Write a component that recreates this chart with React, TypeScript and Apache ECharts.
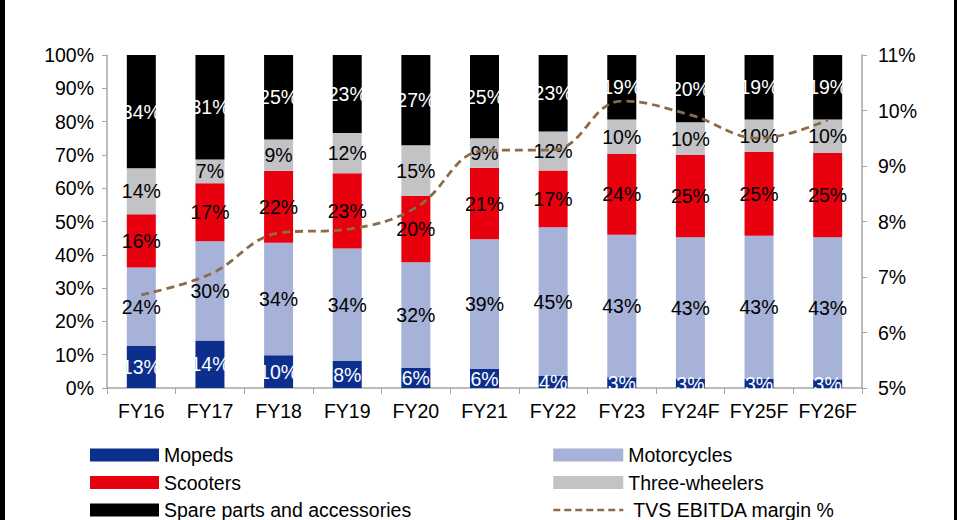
import React, { useEffect, useRef } from "react";
import * as echarts from "echarts";

const categories = ["FY16", "FY17", "FY18", "FY19", "FY20", "FY21", "FY22", "FY23", "FY24F", "FY25F", "FY26F"];
const mopeds = [12.6, 14.3, 9.8, 8.1, 6.0, 5.7, 3.6, 3.2, 2.7, 2.7, 2.6];
const motorcycles = [23.6, 29.8, 33.8, 33.8, 31.8, 39.0, 44.7, 42.8, 42.6, 43.0, 42.7];
const scooters = [16.0, 17.4, 21.6, 22.6, 19.9, 21.4, 17.0, 24.3, 24.7, 25.2, 25.3];
const threeWheelers = [13.8, 7.1, 9.4, 12.1, 15.2, 8.9, 11.7, 10.3, 9.8, 9.7, 10.0];
const spareParts = [34.0, 31.4, 25.4, 23.4, 27.1, 25.0, 23.0, 19.4, 20.2, 19.4, 19.4];
const ebitdaMargin = [6.68, 7.05, 7.79, 7.86, 8.25, 9.28, 9.29, 10.17, 9.92, 9.5, 9.83];
const leftTicks = [0, 100];
const rightTicks = [5, 11];

const FONT = "'Liberation Sans', Arial, sans-serif";
const FS = 19.5;
const LINE_COLOR = "#8b6b4a";

export default function App() {
  const ref = useRef<HTMLDivElement>(null);
  useEffect(() => {
    document.body.style.margin = "0";
    const chart = echarts.init(ref.current!, null, { renderer: "svg" });
    const barSeries = (name: string, data: number[], color: string, labelColor: string) => ({
      name,
      type: "bar",
      stack: "total",
      data,
      barWidth: 29,
      itemStyle: { color },
      label: {
        show: true,
        position: "inside",
        color: labelColor,
        fontSize: FS,
        fontFamily: FONT,
        formatter: (p: any) => Math.round(p.value) + "%",
      },
    });
    const legendCommon = {
      orient: "vertical",
      top: 440,
      height: 100,
      itemHeight: 13,
      itemGap: 7.5,
      textStyle: { fontSize: FS, color: "#000", fontFamily: FONT },
    };
    chart.setOption({
      animation: false,
      textStyle: { fontFamily: FONT },
      grid: { left: 107, right: 99, top: 55, bottom: 132 },
      graphic: [
        { type: "rect", left: 0, top: 0, shape: { width: 5, height: 520 }, style: { fill: "#000" } },
        { type: "rect", left: 954, top: 0, shape: { width: 3, height: 520 }, style: { fill: "#000" } },
      ],
      legend: [
        {
          ...legendCommon,
          left: 85,
          itemWidth: 69,
          data: [
            { name: "Mopeds", icon: "rect" },
            { name: "Scooters", icon: "rect" },
            { name: "Spare parts and accessories", icon: "rect" },
          ],
        },
        {
          ...legendCommon,
          left: 547,
          itemWidth: 70,
          data: [
            { name: "Motorcycles", icon: "rect" },
            { name: "Three-wheelers", icon: "rect" },
            {
              name: "TVS EBITDA margin %",
              itemStyle: { opacity: 0, color: "transparent", borderWidth: 0 },
              lineStyle: { color: LINE_COLOR, width: 2.5, type: [7, 4] },
            },
          ],
          formatter: (n: string) => (n === "TVS EBITDA margin %" ? " " + n : n),
        },
      ],
      xAxis: {
        type: "category",
        data: categories,
        boundaryGap: true,
        axisLine: { lineStyle: { color: "#a6a6a6", width: 1.5 } },
        axisTick: { show: true, length: 6, lineStyle: { color: "#a6a6a6" } },
        axisLabel: { interval: 0, fontSize: FS, color: "#000", margin: 13, fontFamily: FONT },
      },
      yAxis: [
        {
          type: "value",
          min: leftTicks[0],
          max: leftTicks[1],
          interval: 10,
          axisLine: { show: true, lineStyle: { color: "#a6a6a6", width: 1.5 } },
          axisTick: { show: true, length: 5, lineStyle: { color: "#a6a6a6" } },
          splitLine: { show: false },
          axisLabel: { fontSize: FS, color: "#000", margin: 13, formatter: "{value}%", fontFamily: FONT },
        },
        {
          type: "value",
          min: rightTicks[0],
          max: rightTicks[1],
          interval: 1,
          position: "right",
          axisLine: { show: true, lineStyle: { color: "#a6a6a6", width: 1.5 } },
          axisTick: { show: true, length: 5, lineStyle: { color: "#a6a6a6" } },
          splitLine: { show: false },
          axisLabel: { fontSize: FS, color: "#000", margin: 16, formatter: "{value}%", fontFamily: FONT },
        },
      ],
      series: [
        barSeries("Mopeds", mopeds, "#0c2e8c", "#fff"),
        barSeries("Motorcycles", motorcycles, "#a6b2d8", "#000"),
        barSeries("Scooters", scooters, "#e8000f", "#000"),
        barSeries("Three-wheelers", threeWheelers, "#c3c3c5", "#000"),
        barSeries("Spare parts and accessories", spareParts, "#000000", "#fff"),
        {
          name: "TVS EBITDA margin %",
          type: "line",
          yAxisIndex: 1,
          data: ebitdaMargin,
          smooth: 0.4,
          symbol: "none",
          itemStyle: { color: LINE_COLOR },
          lineStyle: { color: LINE_COLOR, width: 2.8, type: [8, 5] },
          z: 10,
        },
      ],
    });
    return () => chart.dispose();
  }, []);
  return <div ref={ref} style={{ width: 961, height: 520 }} />;
}
